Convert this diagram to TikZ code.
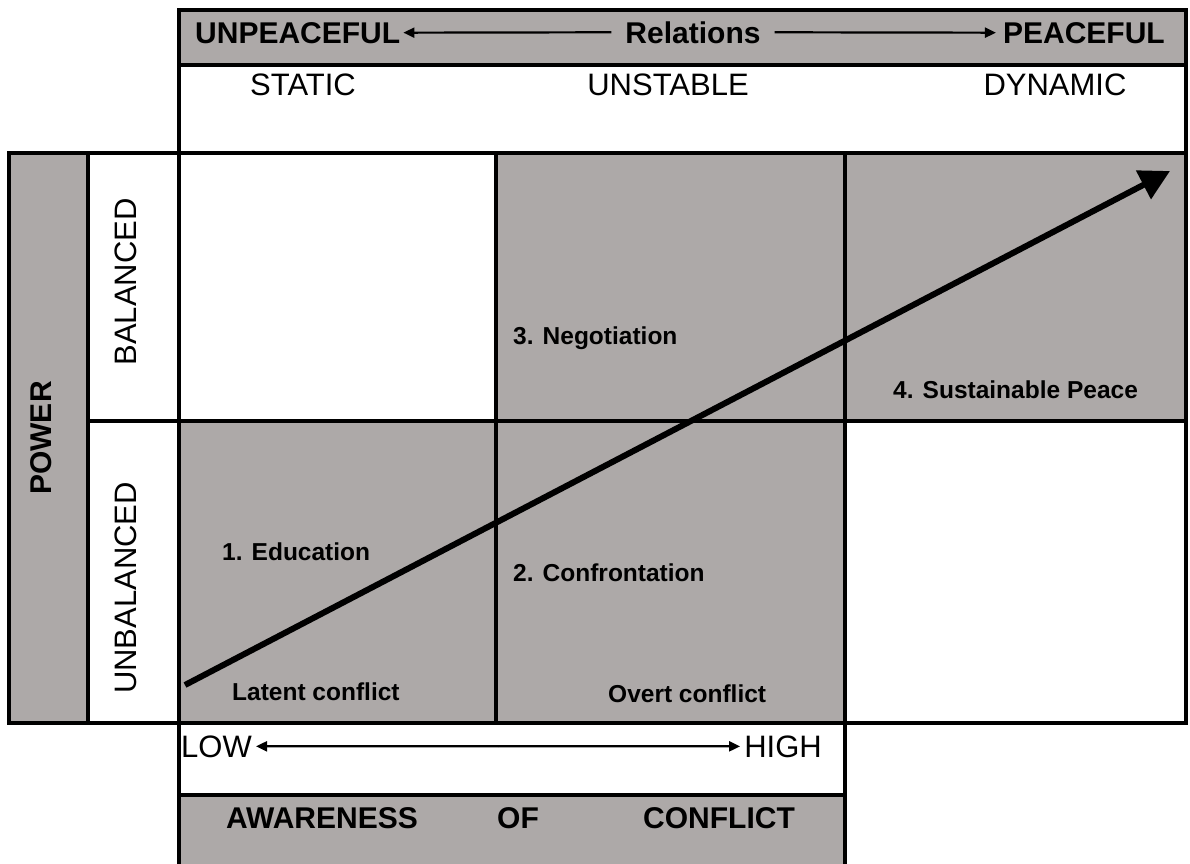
\documentclass[tikz,border=0pt]{standalone}
\usepackage{fontspec}
\setmainfont{Liberation Sans}
\usetikzlibrary{arrows.meta,calc}
\definecolor{cellgray}{RGB}{173,169,168}
\begin{document}
\begin{tikzpicture}[x=1pt,y=-1pt,
  frame/.style={line width=3.2pt},
  grayfill/.style={fill=cellgray},
  hdr/.style={font=\fontsize{30}{32}\selectfont\bfseries, inner sep=0pt},
  reg/.style={font=\fontsize{31}{33}\selectfont, inner sep=0pt},
  lbl/.style={font=\fontsize{24.5}{26}\selectfont\bfseries, inner sep=0pt},
  thinarrow/.style={line width=2.2pt, -{Triangle[length=11pt,width=10pt]}},
  bigarrow/.style={line width=6pt, -{Triangle[length=30pt,width=31pt]}}
]
\useasboundingbox (0,0) rectangle (1190,863);
\fill[white] (0,0) rectangle (1190,863);
% header box
\fill[grayfill] (179,10) rectangle (1186,65);
\draw[frame] (179,10) rectangle (1186,153);
\draw[frame] (179,65) -- (1186,65);
% grid fills
\fill[grayfill] (9,153) rectangle (88,723);
\fill[grayfill] (496,153) rectangle (1186,421);
\fill[grayfill] (179,421) rectangle (845,723);
% grid lines
\draw[frame] (9,153) rectangle (1186,723);
\draw[frame] (88,153) -- (88,723);
\draw[frame] (179,153) -- (179,723);
\draw[frame] (496,153) -- (496,723);
\draw[frame] (845,153) -- (845,723);
\draw[frame] (88,421) -- (1186,421);
% bottom box
\fill[grayfill] (179,795) rectangle (845,870);
\draw[frame] (179,723) -- (179,870);
\draw[frame] (845,723) -- (845,870);
\draw[frame] (179,795) -- (845,795);

% header texts
\node[hdr, anchor=base west] (unp) at (195,43) {UNPEACEFUL};
\node[hdr, anchor=base] (rel) at (693,43) {Relations};
\node[hdr, anchor=base east] (pea) at (1165,43) {PEACEFUL};
\draw[thinarrow] ([xshift=-14pt]rel.west) -- ([xshift=3pt]unp.east);
\draw[thinarrow] ([xshift=14pt]rel.east) -- ([xshift=-7pt]pea.west);

\node[reg] (static) at (303,85) {STATIC};
\node[reg] (unstable) at (668,85) {UNSTABLE};
\node[reg] (dynamic) at (1055,85) {DYNAMIC};

% left labels
\node[hdr, rotate=90] (power) at (41,438) {POWER};
\node[reg, rotate=90] (bal) at (126,282) {BALANCED};
\node[reg, rotate=90] (unbal) at (126,588) {UNBALANCED};

% cell labels
\node[lbl, anchor=base west] (neg) at (513,344) {3. Negotiation};
\node[lbl, anchor=base west] (sus) at (893,398) {4. Sustainable Peace};
\node[lbl, anchor=base west] (edu) at (222,560) {1. Education};
\node[lbl, anchor=base west] (conf) at (513,581) {2. Confrontation};
\node[lbl, anchor=base west] (lat) at (232,700) {Latent conflict};
\node[lbl, anchor=base west] (ovt) at (608,702) {Overt conflict};

% big arrow
\coordinate (start) at (185,685);
\coordinate (tip) at (1170,171);
\draw[bigarrow] (start) -- (tip);

% awareness axis
\node[reg, anchor=base west] (low) at (181,757) {LOW};
\node[reg, anchor=base east] (high) at (822,757) {HIGH};
\coordinate (mid) at ($(low.east)!0.5!(high.west)$);
\draw[thinarrow] (mid) -- ([xshift=4pt]low.east);
\draw[thinarrow] (mid) -- ([xshift=-4pt]high.west);

\node[hdr, anchor=base] (aw) at (322,828) {AWARENESS};
\node[hdr, anchor=base] (of) at (518,828) {OF};
\node[hdr, anchor=base] (con) at (719,828) {CONFLICT};
\end{tikzpicture}
\end{document}
